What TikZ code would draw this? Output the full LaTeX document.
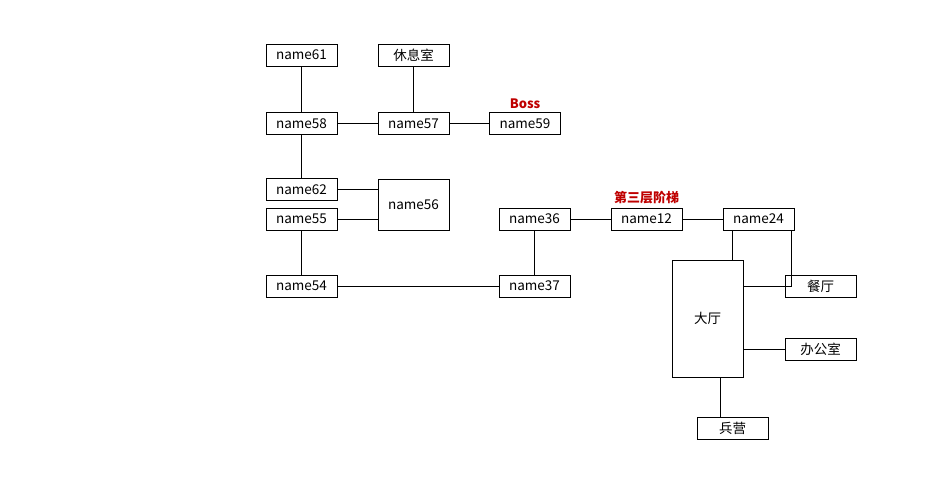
\documentclass[tikz,border=0pt]{standalone}
\usepackage{fontspec}
\setmainfont{Noto Sans CJK SC}
\usetikzlibrary{positioning,calc}

\begin{document}
\begin{tikzpicture}[
    x=1pt, y=-1pt,
    room/.style={rectangle, draw, thick, minimum width=71pt, minimum height=22pt, inner sep=1pt, font=\fontsize{13.5}{15}\selectfont},
    tag/.style={text=red!75!black, font=\bfseries\fontsize{13}{15}\selectfont},
    link/.style={thick}
]
    \useasboundingbox (0,0) rectangle (937,500);

    \node[room] (n61) at (301.5,55) {name61};
    \node[room] (rest) at (413.5,55) {休息室};
    \node[room] (n58) at (301.5,123.5) {name58};
    \node[room] (n57) at (413.5,123.5) {name57};
    \node[room] (n59) at (525,123.5) {name59};
    \node[tag, above=0pt of n59] (boss) {Boss};
    \node[room] (n62) at (301.5,189.5) {name62};
    \node[room, minimum height=51pt] (n56) at (413.5,204.5) {name56};
    \node[room] (n55) at (301.5,219) {name55};
    \node[room] (n54) at (301.5,286) {name54};
    \node[room] (n36) at (534.5,219) {name36};
    \node[room] (n37) at (534.5,286) {name37};
    \node[room] (n12) at (646.5,219) {name12};
    \node[tag, above=0pt of n12] (stairs) {第三层阶梯};
    \node[room] (n24) at (758.5,219) {name24};
    \node[room, minimum height=117pt] (hall) at (707.5,318.5) {大厅};
    \node[room] (dining) at (820.5,286) {餐厅};
    \node[room] (office) at (820.5,349.5) {办公室};
    \node[room] (barracks) at (732.5,428) {兵营};

    \draw[link] (n61) -- (n58);
    \draw[link] (rest) -- (n57);
    \draw[link] (n58) -- (n57);
    \draw[link] (n57) -- (n59);
    \draw[link] (n58) -- (n62);
    \draw[link] (n62) -- (n62 -| n56.west);
    \draw[link] (n55) -- (n55 -| n56.west);
    \draw[link] (n55) -- (n54);
    \draw[link] (n54) -- (n37);
    \draw[link] (n36) -- (n37);
    \draw[link] (n36) -- (n12);
    \draw[link] (n12) -- (n24);
    \draw[link] (n24.south -| 732,0) -- (hall.north -| 732,0);
    \draw[link] (n24.south -| 791,0) |- (dining.west);
    \draw[link] (hall.east |- dining) -- (dining);
    \draw[link] (hall.east |- office) -- (office);
    \draw[link] (hall.south -| 720,0) -- (barracks.north -| 720,0);
\end{tikzpicture}
\end{document}
